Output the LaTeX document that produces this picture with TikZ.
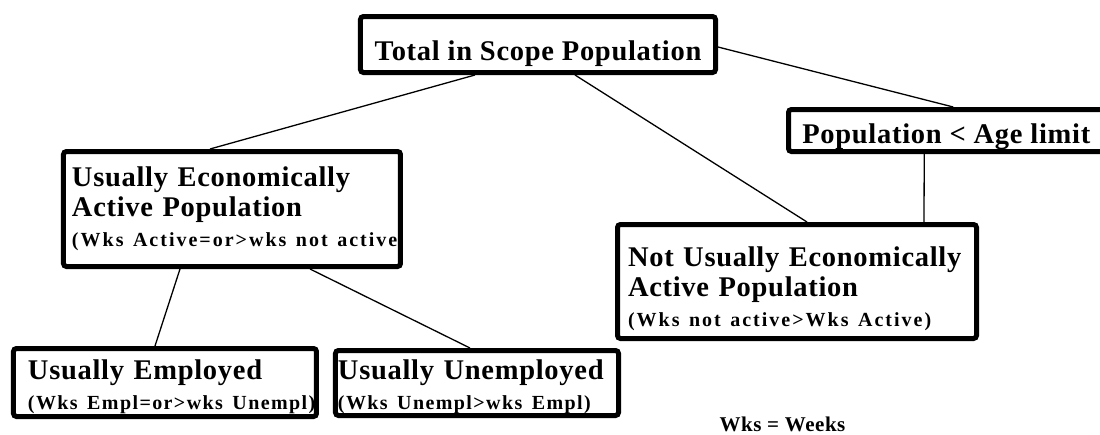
\documentclass[tikz,border=0pt]{standalone}
\usepackage{fontspec}
\setmainfont{Liberation Serif}[LetterSpace=2.5]
\newfontfamily\notefont{Liberation Serif}[LetterSpace=7]
\newfontfamily\widenotefont{Liberation Serif}[LetterSpace=10]
\usepackage{tikz}
\usetikzlibrary{shapes,arrows}

\begin{document}
\begin{tikzpicture}[auto, node distance=3cm,>=latex']
	%define block styles
	\tikzset{
		single/.style={rectangle, rounded corners=3pt, draw=black, line width=5pt, fill=white, inner sep=3pt, font=\fontsize{28.5}{30}\selectfont\bfseries},
		group/.style={rectangle, rounded corners=3pt, draw=black, line width=5pt, fill=white, inner ysep=1pt, align=left, font=\fontsize{28.5}{30}\selectfont\bfseries},
		note/.style={inner sep=0pt, font=\fontsize{21}{24}\selectfont\bfseries},
		link/.style={line width=1.3pt},}
	\useasboundingbox (-538pt,44.5pt) rectangle (562pt,-389.5pt);
	%define nodes
	\node[single, minimum width=355pt, minimum height=56pt, text height=37pt, text depth=6pt](total){Total in Scope Population};
	\node[single, minimum width=315.5pt, minimum height=42pt, text height=30pt, text depth=5pt, node distance=86pt, below of=total, xshift=408.25pt](pop){Population < Age limit};
	\node[group, minimum width=337pt, minimum height=115pt, inner xsep=8.5pt, text width=320pt, node distance=164.5pt, below of=total, xshift=-306pt](uea){\mbox{Usually Economically}\\\mbox{Active Population}\\{\widenotefont\fontsize{20}{24}\selectfont\mbox{(Wks Active=or>wks not active}}};
	\node[group, minimum width=359pt, minimum height=114pt, inner xsep=10.5pt, text width=338pt, node distance=237pt, below of=total, xshift=259pt](nuea){\rule{0pt}{35pt}\mbox{Not Usually Economically}\\\mbox{Active Population}\\{\widenotefont\fontsize{20}{24}\selectfont\mbox{(Wks not active>Wks Active)}}};
	\node[group, minimum width=303pt, minimum height=68pt, inner xsep=14.5pt, text width=274pt, node distance=173.5pt, below of=uea, xshift=-67pt](emp){\rule{0pt}{29pt}\mbox{Usually Employed}\\{\notefont\fontsize{20}{24}\selectfont\mbox{(Wks Empl=or>wks Unempl)}}};
	\node[group, minimum width=283pt, minimum height=65pt, inner xsep=2.5pt, text width=278pt, node distance=312pt, right of=emp, yshift=-0.5pt](unemp){\rule{0pt}{28pt}\mbox{Usually Unemployed}\\{\notefont\fontsize{20}{24}\selectfont\mbox{(Wks Unempl>wks Empl)}}};
	\node[note, node distance=142.5pt, below of=nuea, xshift=-14.5pt](wks){Wks = Weeks};
	%draw lines
	\draw[link] ([xshift=-63pt]total.south) -- ([xshift=-22pt]uea.north);
	\draw[link] ([xshift=37pt]total.south) -- ([xshift=10pt]nuea.north);
	\draw[link] ([yshift=-2.5pt]total.east) -- ([xshift=7pt]pop.north);
	\draw[link] ([xshift=-22pt]pop.south) -- ([xshift=127pt]nuea.north);
	\draw[link] ([xshift=-52pt]uea.south) -- ([xshift=-10pt]emp.north);
	\draw[link] ([xshift=78pt]uea.south) -- ([xshift=-7pt]unemp.north);
\end{tikzpicture}
\end{document}
